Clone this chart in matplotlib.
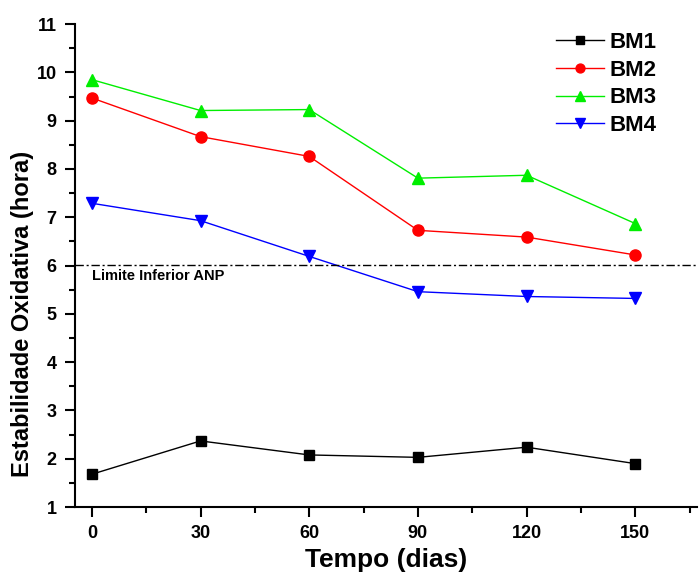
import matplotlib.pyplot as plt

plt.rcParams['font.family'] = ['Liberation Sans', 'DejaVu Sans']
plt.rcParams['font.weight'] = 'bold'

tempo = [0, 30, 60, 90, 120, 150]
bm1 = [1.68, 2.37, 2.08, 2.03, 2.24, 1.90]
bm2 = [9.47, 8.67, 8.26, 6.73, 6.59, 6.22]
bm3 = [9.85, 9.21, 9.23, 7.81, 7.87, 6.87]
bm4 = [7.29, 6.93, 6.19, 5.46, 5.36, 5.32]
limite = 6.02

fig = plt.figure(figsize=(6.99, 5.73), dpi=100)
ax = fig.add_axes([0.107, 0.115, 0.89, 0.843])

ax.plot(tempo, bm1, color='black', marker='s', markersize=7, lw=1, label='BM1')
ax.plot(tempo, bm2, color='red', marker='o', markersize=8, lw=1, label='BM2')
ax.plot(tempo, bm3, color='#00ee00', marker='^', markersize=8.5, lw=1, label='BM3')
ax.plot(tempo, bm4, color='blue', marker='v', markersize=8.5, lw=1, label='BM4')

ax.axhline(limite, color='black', lw=1, ls='-.', dashes=(6, 2, 1.5, 2))
ax.text(0, 5.78, 'Limite Inferior ANP', fontsize=10.5, fontweight='bold', va='center')

ax.set_xlim(-4.7, 167)
ax.set_ylim(1, 11)
ax.set_xticks(tempo)
ax.set_xticks(range(15, 166, 30), minor=True)
ax.set_yticks(range(1, 12))
ax.set_yticks([x + 0.5 for x in range(1, 11)], minor=True)
ax.tick_params(which='both', direction='out', width=1.5, labelsize=13)
ax.tick_params(which='major', length=7, pad=6)
ax.tick_params(which='minor', length=4)
for lbl in ax.get_xticklabels() + ax.get_yticklabels():
    lbl.set_fontweight('bold')

for s in ['top', 'right']:
    ax.spines[s].set_visible(False)
for s in ['left', 'bottom']:
    ax.spines[s].set_linewidth(1.5)

ax.set_xlabel('Tempo (dias)', fontsize=19, fontweight='bold', labelpad=4)
ax.set_ylabel('Estabilidade Oxidativa (hora)', fontsize=17, fontweight='bold')
ax.yaxis.set_label_coords(-0.066, 0.40)

leg = ax.legend(loc='upper right', frameon=False, fontsize=16, handlelength=2.2,
                bbox_to_anchor=(0.968, 1.025), labelspacing=0.3, markerscale=0.8,
                handletextpad=0.25)
for t in leg.get_texts():
    t.set_fontweight('bold')

fig.savefig('out.png', dpi=100)
